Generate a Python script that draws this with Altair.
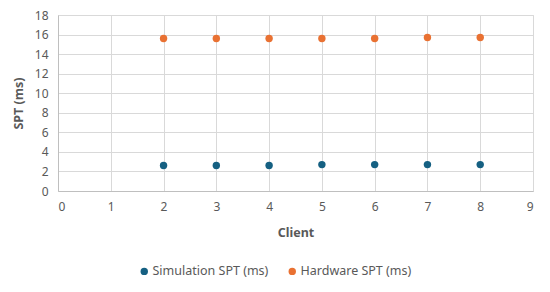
import altair as alt
import pandas as pd

clients = [2, 3, 4, 5, 6, 7, 8]
sim_spt = [2.6, 2.6, 2.6, 2.7, 2.7, 2.7, 2.7]
hw_spt = [15.6, 15.6, 15.6, 15.6, 15.6, 15.7, 15.7]
series_names = ["Simulation  SPT (ms)", "Hardware SPT (ms)"]
colors = ["#156082", "#E97132"]

rows = []
for c, v in zip(clients, sim_spt):
    rows.append({"Client": c, "SPT": v, "Series": series_names[0]})
for c, v in zip(clients, hw_spt):
    rows.append({"Client": c, "SPT": v, "Series": series_names[1]})
df = pd.DataFrame(rows)

font = "Noto Sans"
chart = alt.Chart(df).mark_circle(size=55, opacity=1).encode(
    x=alt.X("Client:Q", scale=alt.Scale(domain=[0, 9], nice=False),
            axis=alt.Axis(title="Client", values=list(range(10)), tickCount=10,
                          labelFontSize=12, labelColor="#595959", labelPadding=10,
                          titleFontSize=12.5, titleColor="#595959", titleFontWeight="bold",
                          titlePadding=14, ticks=False, domainColor="#bfbfbf",
                          gridColor="#d9d9d9", labelFont=font, titleFont=font)),
    y=alt.Y("SPT:Q", scale=alt.Scale(domain=[0, 18], nice=False),
            axis=alt.Axis(title="SPT (ms)", values=list(range(0, 19, 2)),
                          labelFontSize=12, labelColor="#595959", labelPadding=10,
                          titleFontSize=12.5, titleColor="#595959", titleFontWeight="bold",
                          titlePadding=9, ticks=False, domainColor="#bfbfbf",
                          gridColor="#d9d9d9", labelFont=font, titleFont=font)),
    color=alt.Color("Series:N", sort=series_names,
                    scale=alt.Scale(domain=series_names, range=colors),
                    legend=alt.Legend(title=None, orient="none", direction="horizontal",
                                      legendX=80, legendY=250, symbolType="circle",
                                      symbolSize=55, labelFontSize=12.5, labelColor="#595959",
                                      labelFont=font, columnPadding=14, labelOffset=2)),
).properties(
    width=475, height=176,
    padding={"left": 50, "top": 7, "right": 9, "bottom": 95},
    autosize=alt.AutoSizeParams(type="none"),
).configure_view(stroke=None).configure(background="white")

chart.save("out.html", embed_options={"renderer": "svg", "actions": False})
